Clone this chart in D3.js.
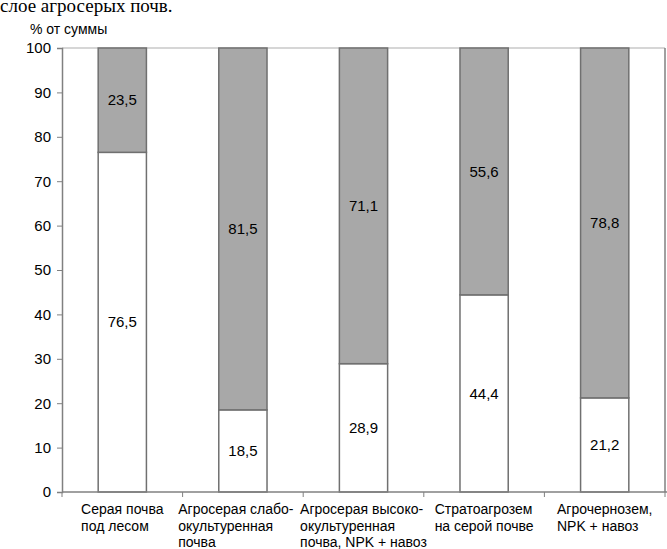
<!DOCTYPE html>
<html><head><meta charset="utf-8">
<script src="https://cdn.jsdelivr.net/npm/d3@7/dist/d3.min.js"></script>
<style>body{margin:0;background:#fff}svg{display:block}</style>
</head><body>
<svg id="c" width="667" height="549"></svg>
<script>
const categories = [
  ["Серая почва","под лесом"],
  ["Агросерая слабо-","окультуренная","почва"],
  ["Агросерая высоко-","окультуренная","почва, NPK + навоз"],
  ["Стратоагрозем","на серой почве"],
  ["Агрочернозем,","NPK + навоз"]
];
const lowerValues = [76.5, 18.5, 28.9, 44.4, 21.2];
const upperValues = [23.5, 81.5, 71.1, 55.6, 78.8];
const yTicks = [0,10,20,30,40,50,60,70,80,90,100];
const titleText = "слое агросерых почв.";
const yUnit = "% от суммы";

const svg = d3.select("#c");
const L = 62, R = 665, T = 48, B = 492;
const x = d3.scaleBand().domain(d3.range(categories.length)).range([L, R]).paddingInner(0.6).paddingOuter(0.3);
const y = d3.scaleLinear().domain([0, 100]).range([B, T]);
const SANS = "Liberation Sans, Arial, sans-serif";

svg.append("text").attr("x", 0).attr("y", 12).attr("font-family", "Liberation Serif, Times New Roman, serif")
  .attr("font-size", 19).text(titleText);
svg.append("text").attr("x", 30).attr("y", 34).attr("font-family", SANS)
  .attr("font-size", 14).text(yUnit);

// plot frame
svg.append("line").attr("x1", L).attr("x2", R).attr("y1", T).attr("y2", T).attr("stroke", "#c8c8c8").attr("stroke-width", 1.5);
svg.append("line").attr("x1", R).attr("x2", R).attr("y1", T).attr("y2", B).attr("stroke", "#808080").attr("stroke-width", 1.5);

// bars
const fmt = v => String(v).replace(".", ",");
const g = svg.append("g");
categories.forEach((c, i) => {
  const x0 = x(i), w = x.bandwidth();
  const lo = lowerValues[i], up = upperValues[i];
  g.append("rect").attr("x", x0).attr("y", y(lo)).attr("width", w).attr("height", y(0) - y(lo))
    .attr("fill", "#fff").attr("stroke", "#707070").attr("stroke-width", 1.5);
  g.append("rect").attr("x", x0).attr("y", y(lo + up)).attr("width", w).attr("height", y(lo) - y(lo + up))
    .attr("fill", "#a8a8a8").attr("stroke", "#707070").attr("stroke-width", 1.5);
  g.append("text").attr("x", x0 + w / 2).attr("y", y(lo / 2)).attr("dy", "0.35em").attr("text-anchor", "middle")
    .attr("font-family", SANS).attr("font-size", 15).text(fmt(lo));
  g.append("text").attr("x", x0 + w / 2).attr("y", y(lo + up / 2)).attr("dy", "0.35em").attr("text-anchor", "middle")
    .attr("font-family", SANS).attr("font-size", 15).text(fmt(up));
});

// y axis
const ya = svg.append("g").attr("transform", `translate(${L},0)`)
  .call(d3.axisLeft(y).tickValues(yTicks).tickSize(5).tickPadding(6).tickFormat(d3.format("d")));
ya.select(".domain").attr("stroke", "#808080").attr("stroke-width", 1.5);
ya.selectAll(".tick line").attr("stroke", "#808080");
ya.selectAll("text").attr("font-family", SANS).attr("font-size", 15).attr("fill", "#000");

// x axis
svg.append("line").attr("x1", L).attr("x2", R + 2).attr("y1", B).attr("y2", B).attr("stroke", "#808080").attr("stroke-width", 1.5);
const step = x.step();
d3.range(categories.length + 1).forEach(k => {
  const xx = L + k * step;
  svg.append("line").attr("x1", xx).attr("x2", xx).attr("y1", B).attr("y2", B + 5).attr("stroke", "#808080");
});
categories.forEach((lines, i) => {
  const cx = x(i) + x.bandwidth() / 2;
  const t = svg.append("text").attr("font-family", SANS).attr("font-size", 14).attr("fill", "#000");
  lines.forEach((ln, j) => t.append("tspan").attr("y", 514 + j * 16.5).text(ln));
  let maxW = 0;
  t.selectAll("tspan").each(function(){ maxW = Math.max(maxW, this.getComputedTextLength()); });
  // wrapped blocks are centred on the wrap box; a hyphenated line keeps its trailing gap
  const hyph = lines.some(l => l.endsWith("-") && this === undefined ? false : l.endsWith("-") && lines.length > 2 && l.length < 17);
  t.selectAll("tspan").attr("x", cx - maxW / 2 - (hyph ? 7 : 0));
});
</script>
</body></html>
